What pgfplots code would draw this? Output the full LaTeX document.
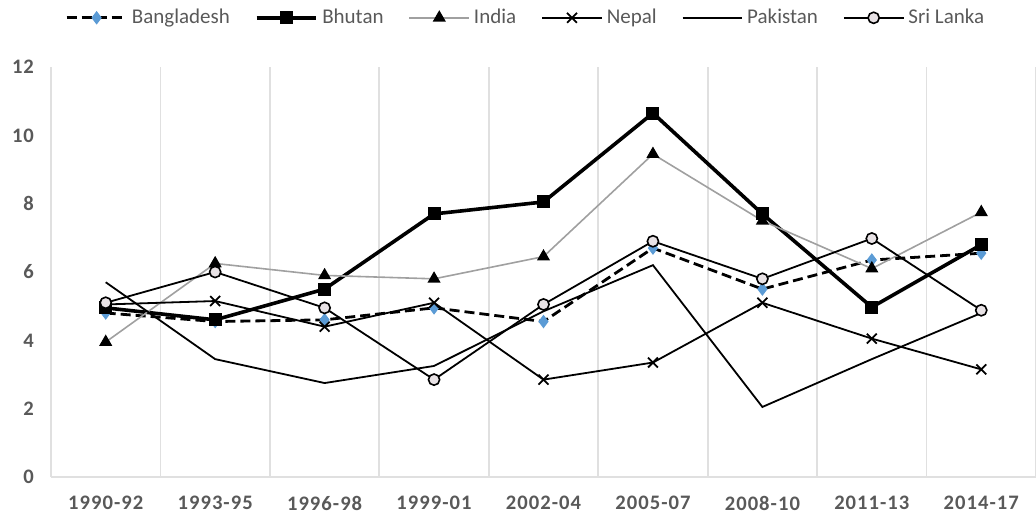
\documentclass[border=0pt]{standalone}
\usepackage{fontspec}
\setmainfont{Carlito}
\newfontfamily\tickfont[LetterSpace=5]{Carlito}
\usepackage{pgfplots}
\pgfplotsset{compat=1.18}
\definecolor{tickgray}{HTML}{595959}
\definecolor{gridgray}{HTML}{E0E0E0}
\definecolor{bdblue}{HTML}{5B9BD5}
\definecolor{indgray}{HTML}{A0A0A0}
\definecolor{slfill}{HTML}{E8E2E5}
\begin{document}
\begin{tikzpicture}
\useasboundingbox (0,0) rectangle (518pt,257pt);
\begin{axis}[
  at={(25.5pt,18.5pt)}, anchor=south west,
  scale only axis, width=492.5pt, height=205pt,
  xmin=-0.5, xmax=8.5, ymin=0, ymax=12,
  xtick={0,...,8},
  xticklabels={1990-92,1993-95,1996-98,1999-01,2002-04,2005-07,2008-10,2011-13,2014-17},
  ytick={0,2,...,12},
  minor xtick={-0.5,0.5,...,8.5},
  minor x grid style={gridgray, line width=0.9pt},
  xminorgrids=true,
  major tick length=0pt, minor tick length=0pt,
  axis x line*=bottom, axis y line*=left,
  axis line style={gridgray, line width=0.9pt, -},
  tick style={draw=none},
  ticklabel style={font=\tickfont\bfseries\fontsize{10.3}{12}\selectfont, text=tickgray},
  xticklabel style={yshift=-6pt},
  yticklabel style={xshift=-5pt},
  /pgf/number format/assume math mode=true,
  legend columns=6,
  legend style={draw=none, fill=none, at={(axis description cs:0.483,1.12)}, anchor=center,
    font=\fontsize{10.5}{12}\selectfont, text=tickgray,
    /tikz/every even column/.append style={column sep=10.5pt}},
  legend image code/.code={\draw[mark repeat=2,mark phase=2,#1] plot coordinates {(0cm,0cm) (0.525cm,0cm) (1.05cm,0cm)};},
  clip=false,
]
\addplot[black, line width=1.4pt, dash pattern=on 5pt off 2.5pt, mark=diamond*, mark size=3pt,
  mark options={solid, fill=bdblue, draw=bdblue, line width=0.5pt}] coordinates {
(0,4.8) (1,4.55) (2,4.6) (3,4.95) (4,4.55) (5,6.7) (6,5.5) (7,6.35) (8,6.55)};
\addlegendentry{Bangladesh}
\addplot[black, line width=1.8pt, mark=square*, mark size=3pt, mark options={solid, line width=0.5pt}] coordinates {
(0,4.95) (1,4.6) (2,5.5) (3,7.7) (4,8.05) (5,10.65) (6,7.7) (7,4.97) (8,6.8)};
\addlegendentry{Bhutan}
\addplot[indgray, line width=0.8pt, mark=triangle*, mark size=3pt, mark options={fill=black, draw=black}] coordinates {
(0,3.95) (1,6.25) (2,5.9) (3,5.8) (4,6.45) (5,9.45) (6,7.5) (7,6.1) (8,7.75)};
\addlegendentry{India}
\addplot[black, line width=0.9pt, mark=x, mark size=3.5pt] coordinates {
(0,5.05) (1,5.15) (2,4.4) (3,5.1) (4,2.85) (5,3.35) (6,5.1) (7,4.05) (8,3.15)};
\addlegendentry{Nepal}
\addplot[black, line width=0.9pt] coordinates {
(0,5.7) (1,3.45) (2,2.75) (3,3.25) (4,4.85) (5,6.2) (6,2.05) (7,3.45) (8,4.8)};
\addlegendentry{Pakistan}
\addplot[black, line width=0.9pt, mark=*, mark size=2.8pt, mark options={fill=slfill, draw=black, line width=0.8pt}] coordinates {
(0,5.1) (1,6.0) (2,4.95) (3,2.85) (4,5.05) (5,6.9) (6,5.8) (7,6.98) (8,4.88)};
\addlegendentry{Sri Lanka}
\end{axis}
\end{tikzpicture}
\end{document}
